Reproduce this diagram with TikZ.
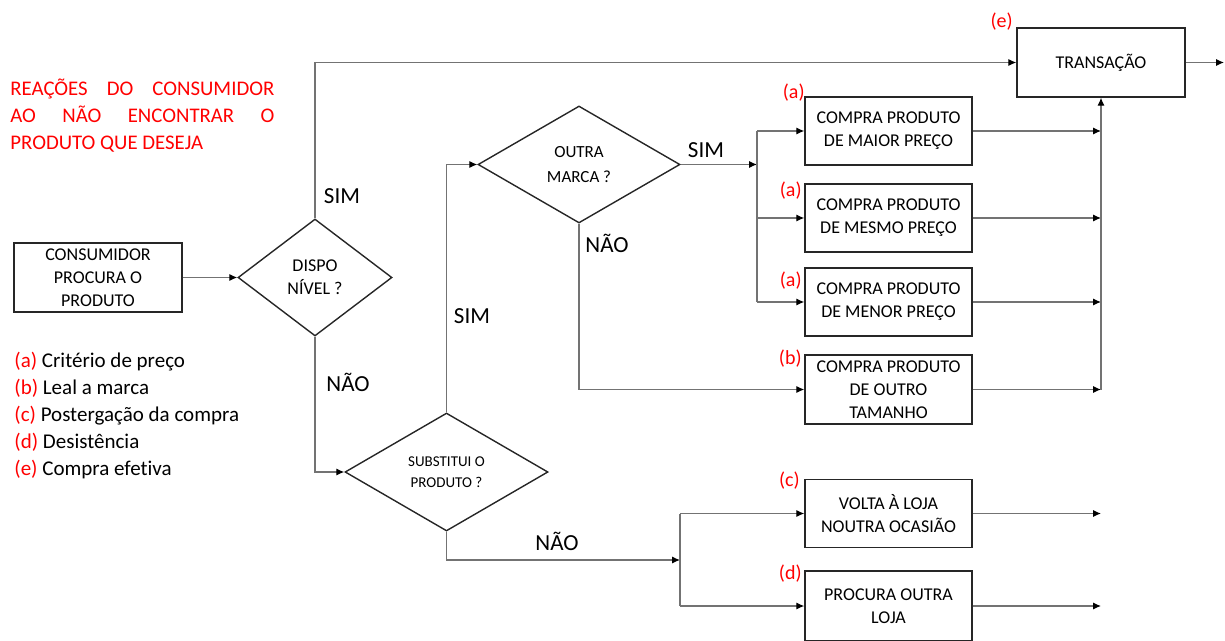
\documentclass[tikz,border=0pt]{standalone}
\usepackage{fontspec}
\setmainfont{Carlito}[Ligatures=NoCommon]
\usetikzlibrary{shapes.geometric,arrows.meta}

\begin{document}
\begin{tikzpicture}[x=0.5pt, y=-0.5pt,
    caixa/.style={draw=black!85, line width=0.7pt, minimum width=83.5pt, minimum height=34pt,
        align=center, inner sep=1pt, font=\fontsize{9}{11.5}\selectfont},
    losango/.style={draw=black!85, line width=0.7pt, diamond, aspect=1.3, inner sep=0pt,
        align=center, font=\fontsize{9}{11.5}\selectfont},
    seta/.style={draw=black!55, line width=0.6pt, -{Latex[length=4pt,width=3.6pt,color=black]}},
    linha/.style={draw=black!55, line width=0.6pt},
    resp/.style={font=\fontsize{11.5}{13}\selectfont},
    tag/.style={red, anchor=east, inner sep=0pt, font=\fontsize{10}{12}\selectfont}]
\useasboundingbox (0,0) rectangle (1225,641);

% titulo e legenda
\node[red, anchor=north west, inner sep=0pt, align=left, font=\fontsize{10.4}{13.5}\selectfont] (titulo) at (10,79)
    {\makebox[132pt][s]{REAÇÕES DO CONSUMIDOR}\\ \makebox[132pt][s]{AO NÃO ENCONTRAR O}\\ PRODUTO QUE DESEJA};
\node[anchor=north west, inner sep=0pt, align=left, font=\fontsize{10.5}{13.5}\selectfont] (legenda) at (14,352)
    {\textcolor{red}{(a)} Critério de preço\\ \textcolor{red}{(b)} Leal a marca\\ \textcolor{red}{(c)} Postergação da compra\\
     \textcolor{red}{(d)} Desistência\\ \textcolor{red}{(e)} Compra efetiva};

% caixas e decisoes
\node[caixa, minimum width=84pt, minimum height=34.5pt] (cons) at (98,277.5) {CONSUMIDOR\\PROCURA O\\PRODUTO};
\node[losango, minimum width=77pt, minimum height=58.5pt] (disp) at (315,277.5) {DISPO\\NÍVEL ?};
\node[losango, minimum width=101.5pt, minimum height=59pt, font=\fontsize{7.5}{10.5}\selectfont] (subst) at (446.5,472) {SUBSTITUI O\\PRODUTO ?};
\node[losango, minimum width=101pt, minimum height=58.5pt, font=\fontsize{8.5}{12.5}\selectfont] (outra) at (579,164.5) {OUTRA\\MARCA ?};
\node[caixa, minimum width=84pt, minimum height=34.5pt] (trans) at (1101,62.5) {TRANSAÇÃO};
\node[caixa] (maior) at (888.5,131) {COMPRA PRODUTO\\DE MAIOR PREÇO};
\node[caixa] (mesmo) at (888.5,218) {COMPRA PRODUTO\\DE MESMO PREÇO};
\node[caixa] (menor) at (888.5,302) {COMPRA PRODUTO\\DE MENOR PREÇO};
\node[caixa, minimum height=34.5pt] (tam) at (888.5,389.5) {COMPRA PRODUTO\\DE OUTRO\\TAMANHO};
\node[caixa] (volta) at (888.5,513.5) {VOLTA À LOJA\\NOUTRA OCASIÃO};
\node[caixa, minimum height=35pt] (loja) at (888.5,606) {PROCURA OUTRA\\LOJA};

% letras dos criterios
\node[tag] (ta1) at (805,92.5) {(a)};
\node[tag] (ta2) at (802,190.5) {(a)};
\node[tag] (ta3) at (802,280.5) {(a)};
\node[tag] (tb) at (802,358.5) {(b)};
\node[tag] (tc) at (800,480.5) {(c)};
\node[tag] (td) at (802,573.5) {(d)};
\node[tag] (te) at (1013,21.5) {(e)};

% pontos de ramificacao
\coordinate (g1) at (757,164.5);
\coordinate (g2) at (680,560);
\coordinate (saida) at (1224,62.5);

% ligacoes
\draw[seta] (cons.east) -- (disp.west);
\draw[seta] (disp.north) |- (trans.west);
\draw[seta] (disp.south) |- (subst.west);
\draw[seta] (subst.north) |- (outra.west);
\draw[seta] (subst.south) |- (g2);
\draw[linha] (g2 |- volta.west) -- (g2 |- loja.west);
\draw[seta] (g2 |- volta.west) -- (volta.west);
\draw[seta] (g2 |- loja.west) -- (loja.west);
\draw[seta] (outra.east) -- (g1);
\draw[linha] (g1 |- maior.west) -- (g1 |- menor.west);
\foreach \b in {maior,mesmo,menor}
    \draw[seta] (g1 |- \b.west) -- (\b.west);
\draw[seta] (outra.south) |- (tam.west);
\foreach \b in {maior,mesmo,menor,tam,volta,loja}
    \draw[seta] (\b.east) -- (\b.east -| trans.south);
\draw[seta] (trans.south |- tam.east) -- (trans.south);
\draw[seta] (trans.east) -- (saida);

% sim / nao
\node[resp] (sim1) at (342,196) {SIM};
\node[resp] (nao1) at (348,382) {NÃO};
\node[resp] (sim2) at (472,316) {SIM};
\node[resp] (nao2) at (557,541) {NÃO};
\node[resp] (sim3) at (706,150) {SIM};
\node[resp] (nao3) at (607,243) {NÃO};
\end{tikzpicture}
\end{document}
